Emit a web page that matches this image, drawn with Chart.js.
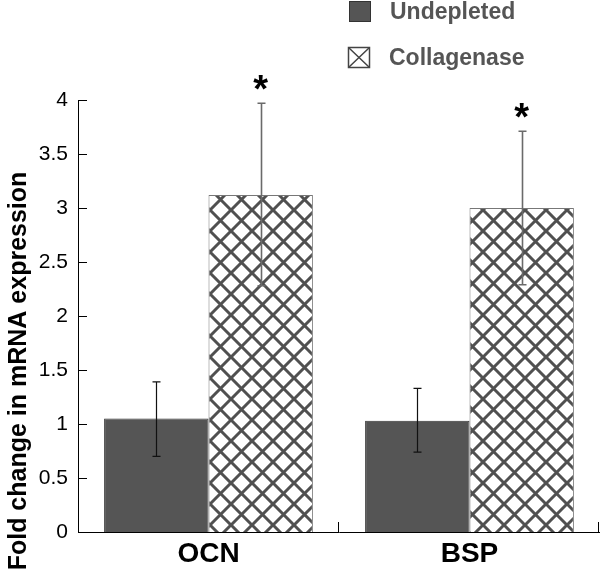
<!DOCTYPE html>
<html>
<head>
<meta charset="utf-8">
<script src="https://cdn.jsdelivr.net/npm/chart.js@4/dist/chart.umd.min.js"></script>
<style>
  html, body { margin: 0; padding: 0; background: #ffffff; }
  #wrap { position: relative; width: 600px; height: 569px; }
  canvas { display: block; }
</style>
</head>
<body>
<div id="wrap"><canvas id="c" width="600" height="569"></canvas></div>
<script>
// ---- data ----
const categories = ['OCN', 'BSP'];
const seriesNames = ['Undepleted', 'Collagenase'];
const undepleted = [1.05, 1.03];
const collagenase = [3.12, 3.00];
const undepletedLow = [0.70, 0.74];
const undepletedHigh = [1.39, 1.33];
const collagenaseLow = [2.28, 2.29];
const collagenaseHigh = [3.97, 3.71];
const collagenaseSig = ['*', '*'];
const yTickLabels = ['0', '0.5', '1', '1.5', '2', '2.5', '3', '3.5', '4'];
const yTitle = 'Fold change in mRNA expression';

const FONT = '"Liberation Sans", Arial, Helvetica, sans-serif';

function makeHatch() {
  const s = 21;
  const c = document.createElement('canvas');
  c.width = s; c.height = s;
  const g = c.getContext('2d');
  g.fillStyle = '#ffffff';
  g.fillRect(0, 0, s, s);
  g.strokeStyle = '#505050';
  g.lineWidth = 3;
  for (const o of [-s, 0, s]) {
    g.beginPath();
    g.moveTo(o - 2, -2); g.lineTo(o + s + 2, s + 2);
    g.moveTo(o - 2, s + 2); g.lineTo(o + s + 2, -2);
    g.stroke();
  }
  return g.createPattern(c, 'repeat');
}
const ctx0 = document.getElementById('c').getContext('2d');
const hatch = makeHatch();

const extras = {
  id: 'extras',
  afterDatasetsDraw(chart) {
    const ctx = chart.ctx;
    const x = chart.scales.x, y = chart.scales.y;
    const area = chart.chartArea;
    ctx.save();
    // inward y ticks
    ctx.strokeStyle = '#000'; ctx.lineWidth = 1;
    y.ticks.forEach(t => {
      const py = Math.round(y.getPixelForValue(t.value)) + 0.5;
      ctx.beginPath(); ctx.moveTo(area.left, py); ctx.lineTo(area.left + 9, py); ctx.stroke();
    });
    // inward x ticks at category boundaries
    categories.forEach((c, i) => {
      const px = Math.min(Math.round(x.getPixelForValue(i + 0.5)) - 0.5, area.right - 1.5);
      ctx.beginPath(); ctx.moveTo(px, area.bottom); ctx.lineTo(px, area.bottom - 10); ctx.stroke();
    });
    // error bars
    const sets = [
      { meta: chart.getDatasetMeta(0), lo: undepletedLow, hi: undepletedHigh, color: '#111111', w: 1.2 },
      { meta: chart.getDatasetMeta(1), lo: collagenaseLow, hi: collagenaseHigh, color: '#6a6a6a', w: 1.6 }
    ];
    sets.forEach(s => {
      s.meta.data.forEach((bar, i) => {
        const bx = Math.round(bar.x) + 0.5;
        const yl = y.getPixelForValue(s.lo[i]);
        const yh = y.getPixelForValue(s.hi[i]);
        ctx.strokeStyle = s.color; ctx.lineWidth = s.w;
        ctx.beginPath();
        ctx.moveTo(bx, yl); ctx.lineTo(bx, yh);
        ctx.moveTo(bx - 4, yh); ctx.lineTo(bx + 4, yh);
        ctx.moveTo(bx - 4, yl); ctx.lineTo(bx + 4, yl);
        ctx.stroke();
      });
    });
    // significance stars
    ctx.fillStyle = '#000';
    ctx.font = 'bold 38px ' + FONT;
    ctx.textAlign = 'center';
    ctx.textBaseline = 'alphabetic';
    chart.getDatasetMeta(1).data.forEach((bar, i) => {
      const mark = collagenaseSig[i];
      if (!mark) return;
      const m = ctx.measureText(mark);
      const cy = y.getPixelForValue(collagenaseHigh[i]) - 21;
      const base = cy + (m.actualBoundingBoxAscent - m.actualBoundingBoxDescent) / 2;
      ctx.fillText(mark, bar.x, base);
    });
    // y title
    ctx.save();
    ctx.translate(26, 371);
    ctx.rotate(-Math.PI / 2);
    ctx.font = 'bold 25px ' + FONT;
    ctx.fillStyle = '#000';
    ctx.textAlign = 'center';
    ctx.textBaseline = 'alphabetic';
    ctx.fillText(yTitle, 0, 0);
    ctx.restore();
    // legend
    ctx.font = 'bold 23px ' + FONT;
    ctx.textAlign = 'left';
    ctx.textBaseline = 'alphabetic';
    // Undepleted
    ctx.fillStyle = '#555555';
    ctx.fillRect(349, 1, 22, 21);
    ctx.strokeStyle = '#333'; ctx.lineWidth = 1;
    ctx.strokeRect(349.5, 1.5, 21, 20);
    ctx.fillStyle = '#555555';
    ctx.fillText(seriesNames[0], 390, 19);
    // Collagenase
    ctx.fillStyle = '#fff';
    ctx.fillRect(348, 47, 22, 21);
    ctx.strokeStyle = '#444'; ctx.lineWidth = 1.5;
    ctx.strokeRect(348.5, 47.5, 21, 20);
    ctx.beginPath();
    ctx.moveTo(348.5, 47.5); ctx.lineTo(369.5, 67.5);
    ctx.moveTo(369.5, 47.5); ctx.lineTo(348.5, 67.5);
    ctx.stroke();
    ctx.fillStyle = '#555555';
    ctx.fillText(seriesNames[1], 389, 65);
    ctx.restore();
  }
};

new Chart(ctx0, {
  type: 'bar',
  data: {
    labels: categories,
    datasets: [
      { label: seriesNames[0], data: undepleted, backgroundColor: '#555555', borderColor: '#333333', borderWidth: 1,
        categoryPercentage: 0.8, barPercentage: 1.0 },
      { label: seriesNames[1], data: collagenase, backgroundColor: hatch, borderColor: '#777777', borderWidth: 1,
        categoryPercentage: 0.8, barPercentage: 1.0 }
    ]
  },
  options: {
    responsive: false,
    animation: false,
    devicePixelRatio: 1,
    layout: { padding: { top: 100, left: 0, right: 0, bottom: 0 } },
    plugins: { legend: { display: false }, tooltip: { enabled: false } },
    scales: {
      x: {
        grid: { display: false, drawTicks: false },
        border: { display: true, color: '#000', width: 1 },
        ticks: { color: '#000', font: { family: FONT, size: 28, weight: 'bold' }, padding: 5 },
        afterFit: s => { s.height = 37; }
      },
      y: {
        min: 0, max: 4,
        grid: { display: false, drawTicks: false },
        border: { display: true, color: '#000', width: 1 },
        ticks: {
          stepSize: 0.5,
          color: '#000',
          font: { family: FONT, size: 21 },
          padding: 10,
          callback: (v, i) => yTickLabels[i]
        },
        afterFit: s => { s.width = 78; }
      }
    }
  },
  plugins: [extras]
});
</script>
</body>
</html>
